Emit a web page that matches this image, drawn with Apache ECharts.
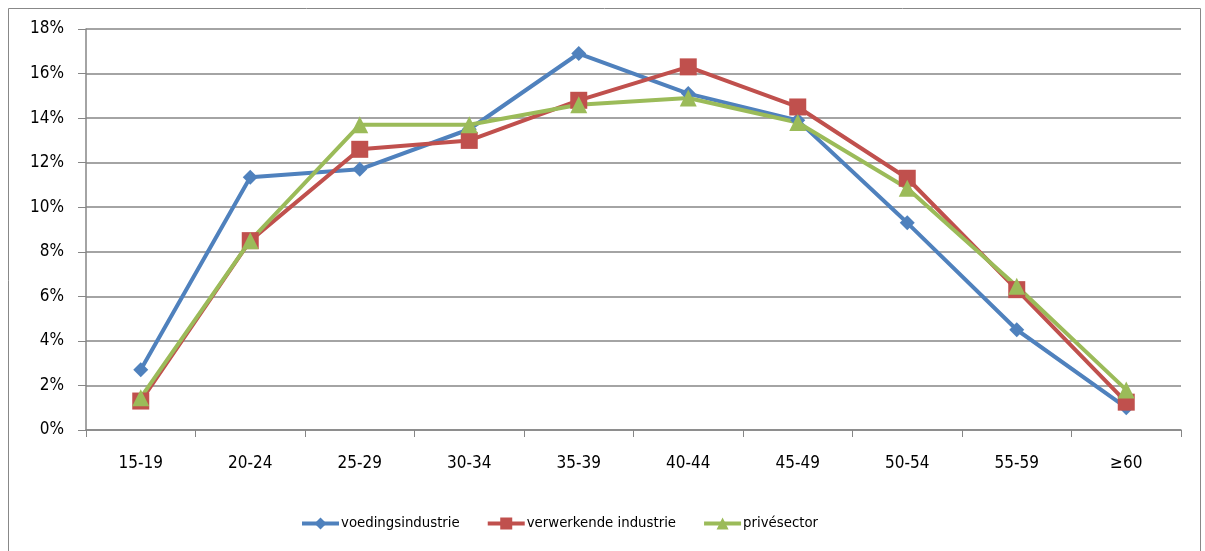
<!DOCTYPE html>
<html><head><meta charset="utf-8">
<script src="https://cdn.jsdelivr.net/npm/echarts@6/dist/echarts.min.js"></script>
<style>html,body{margin:0;padding:0;background:#fff}#c{width:1205px;height:551px}</style>
</head><body><div id="c"></div>
<script>
var categories = ['15-19','20-24','25-29','30-34','35-39','40-44','45-49','50-54','55-59','≥60'];
var voedingsindustrie = [2.7, 11.35, 11.7, 13.5, 16.9, 15.1, 13.9, 9.3, 4.5, 1.0];
var verwerkendeIndustrie = [1.3, 8.5, 12.6, 13.0, 14.8, 16.3, 14.5, 11.3, 6.3, 1.25];
var privesector = [1.45, 8.5, 13.7, 13.7, 14.6, 14.9, 13.8, 10.85, 6.45, 1.8];
var seriesNames = ['voedingsindustrie','verwerkende industrie','privésector'];
var colors = ['#4F81BD','#C0504D','#9BBB59'];
var font = '"DejaVu Sans Condensed", "Liberation Sans Narrow", "Liberation Sans", Arial, sans-serif';
var chart = echarts.init(document.getElementById('c'));
function mk(name, data, color, symbol, size){
  return {name:name, type:'line', data:data, symbol:symbol, symbolSize:size,
    lineStyle:{color:color, width:4}, itemStyle:{color:color}, z:2};
}
chart.setOption({
  animation:false,
  graphic:[{type:'rect', shape:{x:8.5,y:8.5,width:1192,height:560}, style:{fill:'none', stroke:'#888', lineWidth:1}}],
  grid:{left:86, right:24, top:29, bottom:121},
  legend:{top:511, left:295, itemWidth:37, itemHeight:15, itemGap:26,
    lineStyle:{width:4},
    textStyle:{fontFamily:font, fontSize:14.8, color:'#000', padding:[0,0,0,-3]},
    data:seriesNames},
  xAxis:{type:'category', data:categories, boundaryGap:true,
    axisLine:{lineStyle:{color:'#868686', width:1.5}},
    axisTick:{show:true, length:7, lineStyle:{color:'#868686'}},
    axisLabel:{fontFamily:font, fontSize:17, color:'#000', margin:25}},
  yAxis:{type:'value', min:0, max:18, interval:2,
    axisLine:{show:true, lineStyle:{color:'#868686', width:1.5}},
    axisTick:{show:true, length:8, lineStyle:{color:'#868686'}},
    splitLine:{lineStyle:{color:'#868686', width:1.5}},
    axisLabel:{fontFamily:font, fontSize:17, color:'#000', margin:22, formatter:'{value}%'}},
  series:[
    mk(seriesNames[0], voedingsindustrie, colors[0], 'diamond', 15),
    mk(seriesNames[1], verwerkendeIndustrie, colors[1], 'rect', 17),
    mk(seriesNames[2], privesector, colors[2], 'triangle', 17)
  ]
});
</script></body></html>
